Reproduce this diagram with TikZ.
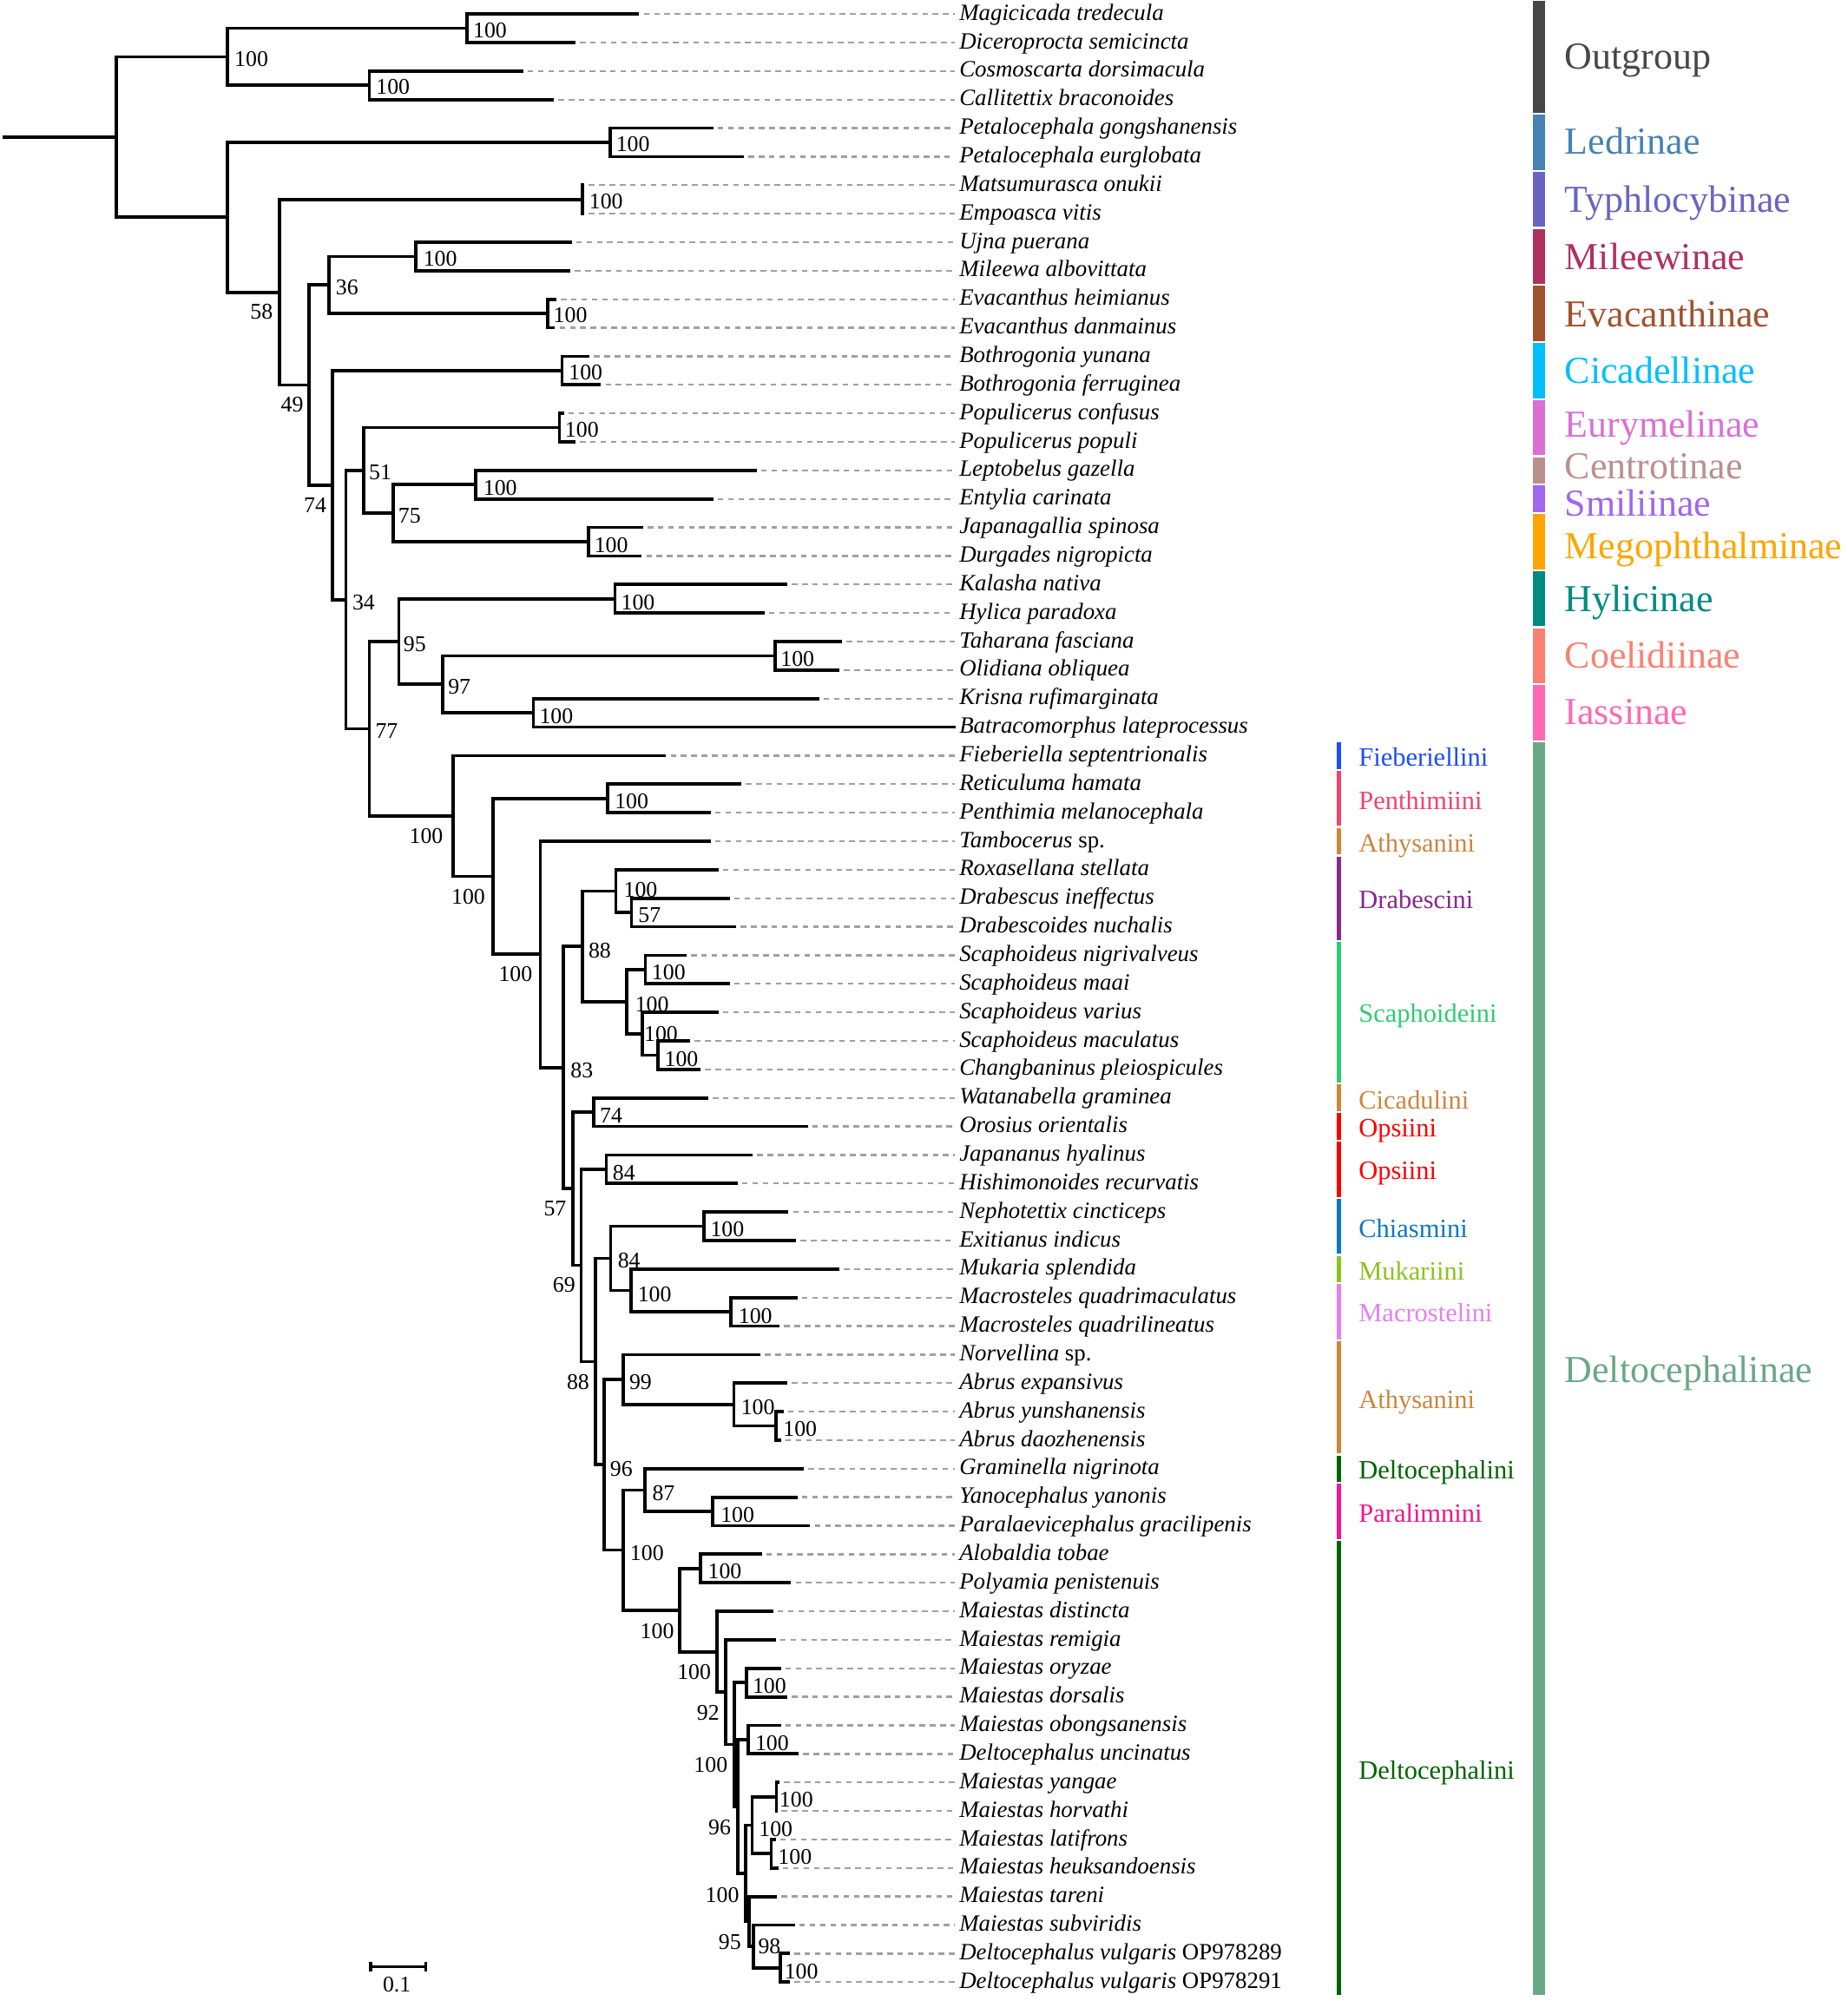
\documentclass[tikz,border=0pt]{standalone}
\usepackage{fontspec}
\setmainfont{Liberation Serif}
\usetikzlibrary{arrows.meta}

% subfamilies
\definecolor{cOut}{HTML}{474747}
\definecolor{cLed}{HTML}{4682B4}
\definecolor{cTyp}{HTML}{6A64C0}
\definecolor{cMil}{HTML}{B03060}
\definecolor{cEva}{HTML}{A0522D}
\definecolor{cCic}{HTML}{00BFFF}
\definecolor{cEur}{HTML}{DA70D6}
\definecolor{cCen}{HTML}{BC8F8F}
\definecolor{cSmi}{HTML}{A066EE}
\definecolor{cMeg}{HTML}{FFA500}
\definecolor{cHyl}{HTML}{008B80}
\definecolor{cCoe}{HTML}{FA8072}
\definecolor{cIas}{HTML}{FF69B4}
\definecolor{cDel}{HTML}{69A887}
% tribes
\definecolor{tFie}{HTML}{1E4BFF}
\definecolor{tPen}{HTML}{F4416F}
\definecolor{tAth}{HTML}{CD853F}
\definecolor{tDra}{HTML}{88288F}
\definecolor{tSca}{HTML}{2ECC71}
\definecolor{tOps}{HTML}{FF0000}
\definecolor{tChi}{HTML}{0E78C2}
\definecolor{tMuk}{HTML}{8CC21F}
\definecolor{tMac}{HTML}{E77FEF}
\definecolor{tDlt}{HTML}{006400}
\definecolor{tPar}{HTML}{F3168E}
\definecolor{guidegray}{HTML}{A0A0A0}

\newcommand{\ry}[1]{11+(#1-1)*22.35}

\begin{document}
\begin{tikzpicture}[x=0.2mm,y=-0.2mm,
	branch/.style={line width=1.45pt},
	guide/.style={guidegray,line width=0.9pt,dash pattern=on 2.5pt off 2.1pt,shorten <=2pt},
	taxon/.style={anchor=west,inner xsep=2pt,inner ysep=0pt,text height=7.5pt,text depth=2pt,font=\fontsize{10.4}{12}\selectfont\itshape},
	bs/.style={inner sep=0pt,font=\fontsize{10}{12}\selectfont},
	tribe/.style={anchor=base west,inner sep=0pt,font=\fontsize{11.8}{14}\selectfont},
	subfam/.style={anchor=base west,inner sep=0pt,font=\fontsize{17}{20}\selectfont}]

	\useasboundingbox (0,0) rectangle (1448,1568);

	% tips and taxon names
	\coordinate (t1) at (501,{\ry{1}});   \node[taxon] (L1) at (748,{\ry{1}}) {Magicicada tredecula};
	\coordinate (t2) at (451,{\ry{2}});   \node[taxon] (L2) at (748,{\ry{2}}) {Diceroprocta semicincta};
	\coordinate (t3) at (410,{\ry{3}});   \node[taxon] (L3) at (748,{\ry{3}}) {Cosmoscarta dorsimacula};
	\coordinate (t4) at (434,{\ry{4}});   \node[taxon] (L4) at (748,{\ry{4}}) {Callitettix braconoides};
	\coordinate (t5) at (559,{\ry{5}});   \node[taxon] (L5) at (748,{\ry{5}}) {Petalocephala gongshanensis};
	\coordinate (t6) at (583,{\ry{6}});   \node[taxon] (L6) at (748,{\ry{6}}) {Petalocephala eurglobata};
	\coordinate (t7) at (458,{\ry{7}});   \node[taxon] (L7) at (748,{\ry{7}}) {Matsumurasca onukii};
	\coordinate (t8) at (458,{\ry{8}});   \node[taxon] (L8) at (748,{\ry{8}}) {Empoasca vitis};
	\coordinate (t9) at (448,{\ry{9}});   \node[taxon] (L9) at (748,{\ry{9}}) {Ujna puerana};
	\coordinate (t10) at (447,{\ry{10}}); \node[taxon] (L10) at (748,{\ry{10}}) {Mileewa albovittata};
	\coordinate (t11) at (436,{\ry{11}}); \node[taxon] (L11) at (748,{\ry{11}}) {Evacanthus heimianus};
	\coordinate (t12) at (435,{\ry{12}}); \node[taxon] (L12) at (748,{\ry{12}}) {Evacanthus danmainus};
	\coordinate (t13) at (462,{\ry{13}}); \node[taxon] (L13) at (748,{\ry{13}}) {Bothrogonia yunana};
	\coordinate (t14) at (471,{\ry{14}}); \node[taxon] (L14) at (748,{\ry{14}}) {Bothrogonia ferruginea};
	\coordinate (t15) at (442,{\ry{15}}); \node[taxon] (L15) at (748,{\ry{15}}) {Populicerus confusus};
	\coordinate (t16) at (451,{\ry{16}}); \node[taxon] (L16) at (748,{\ry{16}}) {Populicerus populi};
	\coordinate (t17) at (593,{\ry{17}}); \node[taxon] (L17) at (748,{\ry{17}}) {Leptobelus gazella};
	\coordinate (t18) at (559,{\ry{18}}); \node[taxon] (L18) at (748,{\ry{18}}) {Entylia carinata};
	\coordinate (t19) at (504,{\ry{19}}); \node[taxon] (L19) at (748,{\ry{19}}) {Japanagallia spinosa};
	\coordinate (t20) at (503,{\ry{20}}); \node[taxon] (L20) at (748,{\ry{20}}) {Durgades nigropicta};
	\coordinate (t21) at (617,{\ry{21}}); \node[taxon] (L21) at (748,{\ry{21}}) {Kalasha nativa};
	\coordinate (t22) at (599,{\ry{22}}); \node[taxon] (L22) at (748,{\ry{22}}) {Hylica paradoxa};
	\coordinate (t23) at (660,{\ry{23}}); \node[taxon] (L23) at (748,{\ry{23}}) {Taharana fasciana};
	\coordinate (t24) at (658,{\ry{24}}); \node[taxon] (L24) at (748,{\ry{24}}) {Olidiana obliquea};
	\coordinate (t25) at (642,{\ry{25}}); \node[taxon] (L25) at (748,{\ry{25}}) {Krisna rufimarginata};
	\coordinate (t26) at (749,{\ry{26}}); \node[taxon] (L26) at (748,{\ry{26}}) {Batracomorphus lateprocessus};
	\coordinate (t27) at (522,{\ry{27}}); \node[taxon] (L27) at (748,{\ry{27}}) {Fieberiella septentrionalis};
	\coordinate (t28) at (581,{\ry{28}}); \node[taxon] (L28) at (748,{\ry{28}}) {Reticuluma hamata};
	\coordinate (t29) at (557,{\ry{29}}); \node[taxon] (L29) at (748,{\ry{29}}) {Penthimia melanocephala};
	\coordinate (t30) at (557,{\ry{30}}); \node[taxon] (L30) at (748,{\ry{30}}) {Tambocerus {\upshape sp.}};
	\coordinate (t31) at (563,{\ry{31}}); \node[taxon] (L31) at (748,{\ry{31}}) {Roxasellana stellata};
	\coordinate (t32) at (572,{\ry{32}}); \node[taxon] (L32) at (748,{\ry{32}}) {Drabescus ineffectus};
	\coordinate (t33) at (577,{\ry{33}}); \node[taxon] (L33) at (748,{\ry{33}}) {Drabescoides nuchalis};
	\coordinate (t34) at (538,{\ry{34}}); \node[taxon] (L34) at (748,{\ry{34}}) {Scaphoideus nigrivalveus};
	\coordinate (t35) at (572,{\ry{35}}); \node[taxon] (L35) at (748,{\ry{35}}) {Scaphoideus maai};
	\coordinate (t36) at (563,{\ry{36}}); \node[taxon] (L36) at (748,{\ry{36}}) {Scaphoideus varius};
	\coordinate (t37) at (541,{\ry{37}}); \node[taxon] (L37) at (748,{\ry{37}}) {Scaphoideus maculatus};
	\coordinate (t38) at (549,{\ry{38}}); \node[taxon] (L38) at (748,{\ry{38}}) {Changbaninus pleiospicules};
	\coordinate (t39) at (555,{\ry{39}}); \node[taxon] (L39) at (748,{\ry{39}}) {Watanabella graminea};
	\coordinate (t40) at (633,{\ry{40}}); \node[taxon] (L40) at (748,{\ry{40}}) {Orosius orientalis};
	\coordinate (t41) at (590,{\ry{41}}); \node[taxon] (L41) at (748,{\ry{41}}) {Japananus hyalinus};
	\coordinate (t42) at (578,{\ry{42}}); \node[taxon] (L42) at (748,{\ry{42}}) {Hishimonoides recurvatis};
	\coordinate (t43) at (618,{\ry{43}}); \node[taxon] (L43) at (748,{\ry{43}}) {Nephotettix cincticeps};
	\coordinate (t44) at (624,{\ry{44}}); \node[taxon] (L44) at (748,{\ry{44}}) {Exitianus indicus};
	\coordinate (t45) at (658,{\ry{45}}); \node[taxon] (L45) at (748,{\ry{45}}) {Mukaria splendida};
	\coordinate (t46) at (625,{\ry{46}}); \node[taxon] (L46) at (748,{\ry{46}}) {Macrosteles quadrimaculatus};
	\coordinate (t47) at (611,{\ry{47}}); \node[taxon] (L47) at (748,{\ry{47}}) {Macrosteles quadrilineatus};
	\coordinate (t48) at (596,{\ry{48}}); \node[taxon] (L48) at (748,{\ry{48}}) {Norvellina {\upshape sp.}};
	\coordinate (t49) at (617,{\ry{49}}); \node[taxon] (L49) at (748,{\ry{49}}) {Abrus expansivus};
	\coordinate (t50) at (614,{\ry{50}}); \node[taxon] (L50) at (748,{\ry{50}}) {Abrus yunshanensis};
	\coordinate (t51) at (612,{\ry{51}}); \node[taxon] (L51) at (748,{\ry{51}}) {Abrus daozhenensis};
	\coordinate (t52) at (630,{\ry{52}}); \node[taxon] (L52) at (748,{\ry{52}}) {Graminella nigrinota};
	\coordinate (t53) at (625,{\ry{53}}); \node[taxon] (L53) at (748,{\ry{53}}) {Yanocephalus yanonis};
	\coordinate (t54) at (635,{\ry{54}}); \node[taxon] (L54) at (748,{\ry{54}}) {Paralaevicephalus gracilipenis};
	\coordinate (t55) at (597,{\ry{55}}); \node[taxon] (L55) at (748,{\ry{55}}) {Alobaldia tobae};
	\coordinate (t56) at (620,{\ry{56}}); \node[taxon] (L56) at (748,{\ry{56}}) {Polyamia penistenuis};
	\coordinate (t57) at (606,{\ry{57}}); \node[taxon] (L57) at (748,{\ry{57}}) {Maiestas distincta};
	\coordinate (t58) at (608,{\ry{58}}); \node[taxon] (L58) at (748,{\ry{58}}) {Maiestas remigia};
	\coordinate (t59) at (612,{\ry{59}}); \node[taxon] (L59) at (748,{\ry{59}}) {Maiestas oryzae};
	\coordinate (t60) at (617,{\ry{60}}); \node[taxon] (L60) at (748,{\ry{60}}) {Maiestas dorsalis};
	\coordinate (t61) at (612,{\ry{61}}); \node[taxon] (L61) at (748,{\ry{61}}) {Maiestas obongsanensis};
	\coordinate (t62) at (626,{\ry{62}}); \node[taxon] (L62) at (748,{\ry{62}}) {Deltocephalus uncinatus};
	\coordinate (t63) at (611,{\ry{63}}); \node[taxon] (L63) at (748,{\ry{63}}) {Maiestas yangae};
	\coordinate (t64) at (609,{\ry{64}}); \node[taxon] (L64) at (748,{\ry{64}}) {Maiestas horvathi};
	\coordinate (t65) at (608,{\ry{65}}); \node[taxon] (L65) at (748,{\ry{65}}) {Maiestas latifrons};
	\coordinate (t66) at (610,{\ry{66}}); \node[taxon] (L66) at (748,{\ry{66}}) {Maiestas heuksandoensis};
	\coordinate (t67) at (609,{\ry{67}}); \node[taxon] (L67) at (748,{\ry{67}}) {Maiestas tareni};
	\coordinate (t68) at (623,{\ry{68}}); \node[taxon] (L68) at (748,{\ry{68}}) {Maiestas subviridis};
	\coordinate (t69) at (619,{\ry{69}}); \node[taxon] (L69) at (748,{\ry{69}}) {Deltocephalus vulgaris {\upshape OP978289}};
	\coordinate (t70) at (619,{\ry{70}}); \node[taxon] (L70) at (748,{\ry{70}}) {Deltocephalus vulgaris {\upshape OP978291}};

	\draw[guide] (t1) -- (L1);   \draw[guide] (t2) -- (L2);   \draw[guide] (t3) -- (L3);   \draw[guide] (t4) -- (L4);
	\draw[guide] (t5) -- (L5);   \draw[guide] (t6) -- (L6);   \draw[guide] (t7) -- (L7);   \draw[guide] (t8) -- (L8);
	\draw[guide] (t9) -- (L9);   \draw[guide] (t10) -- (L10); \draw[guide] (t11) -- (L11); \draw[guide] (t12) -- (L12);
	\draw[guide] (t13) -- (L13); \draw[guide] (t14) -- (L14); \draw[guide] (t15) -- (L15); \draw[guide] (t16) -- (L16);
	\draw[guide] (t17) -- (L17); \draw[guide] (t18) -- (L18); \draw[guide] (t19) -- (L19); \draw[guide] (t20) -- (L20);
	\draw[guide] (t21) -- (L21); \draw[guide] (t22) -- (L22); \draw[guide] (t23) -- (L23); \draw[guide] (t24) -- (L24);
	\draw[guide] (t25) -- (L25); \draw[guide] (t27) -- (L27); \draw[guide] (t28) -- (L28); \draw[guide] (t29) -- (L29);
	\draw[guide] (t30) -- (L30); \draw[guide] (t31) -- (L31); \draw[guide] (t32) -- (L32); \draw[guide] (t33) -- (L33);
	\draw[guide] (t34) -- (L34); \draw[guide] (t35) -- (L35); \draw[guide] (t36) -- (L36); \draw[guide] (t37) -- (L37);
	\draw[guide] (t38) -- (L38); \draw[guide] (t39) -- (L39); \draw[guide] (t40) -- (L40); \draw[guide] (t41) -- (L41);
	\draw[guide] (t42) -- (L42); \draw[guide] (t43) -- (L43); \draw[guide] (t44) -- (L44); \draw[guide] (t45) -- (L45);
	\draw[guide] (t46) -- (L46); \draw[guide] (t47) -- (L47); \draw[guide] (t48) -- (L48); \draw[guide] (t49) -- (L49);
	\draw[guide] (t50) -- (L50); \draw[guide] (t51) -- (L51); \draw[guide] (t52) -- (L52); \draw[guide] (t53) -- (L53);
	\draw[guide] (t54) -- (L54); \draw[guide] (t55) -- (L55); \draw[guide] (t56) -- (L56); \draw[guide] (t57) -- (L57);
	\draw[guide] (t58) -- (L58); \draw[guide] (t59) -- (L59); \draw[guide] (t60) -- (L60); \draw[guide] (t61) -- (L61);
	\draw[guide] (t62) -- (L62); \draw[guide] (t63) -- (L63); \draw[guide] (t64) -- (L64); \draw[guide] (t65) -- (L65);
	\draw[guide] (t66) -- (L66); \draw[guide] (t67) -- (L67); \draw[guide] (t68) -- (L68); \draw[guide] (t69) -- (L69);
	\draw[guide] (t70) -- (L70);

	% inner nodes (row = mean of the two children)
	\coordinate (nMD) at (366,{\ry{1.5}});
	\coordinate (nCC) at (289.5,{\ry{3.5}});
	\coordinate (nOut) at (178,{\ry{2.5}});
	\coordinate (nLed) at (478,{\ry{5.5}});
	\coordinate (nTyp) at (456.6,{\ry{7.5}});
	\coordinate (nMil) at (326,{\ry{9.5}});
	\coordinate (nEva) at (429,{\ry{11.5}});
	\coordinate (n36) at (258,{\ry{10.5}});
	\coordinate (nBot) at (440.5,{\ry{13.5}});
	\coordinate (nPop) at (438.4,{\ry{15.5}});
	\coordinate (nLep) at (373,{\ry{17.5}});
	\coordinate (nJap) at (461,{\ry{19.5}});
	\coordinate (n75) at (308,{\ry{18.5}});
	\coordinate (n51) at (285,{\ry{17}});
	\coordinate (nKal) at (482,{\ry{21.5}});
	\coordinate (nTah) at (607.6,{\ry{23.5}});
	\coordinate (nKri) at (418,{\ry{25.5}});
	\coordinate (n97) at (347,{\ry{24.5}});
	\coordinate (n95) at (312.5,{\ry{23}});
	\coordinate (nPen) at (476,{\ry{28.5}});
	\coordinate (nDrb) at (494.8,{\ry{32.5}});
	\coordinate (nDra) at (482.7,{\ry{31.75}});
	\coordinate (nSc1) at (505.8,{\ry{34.5}});
	\coordinate (nSc4) at (515.5,{\ry{37.5}});
	\coordinate (nSc3) at (503.4,{\ry{36.75}});
	\coordinate (nSca) at (491.2,{\ry{35.625}});
	\coordinate (n88a) at (456.3,{\ry{33.6875}});
	\coordinate (n74b) at (465.4,{\ry{39.5}});
	\coordinate (n84a) at (475.2,{\ry{41.5}});
	\coordinate (nChi) at (551.6,{\ry{43.5}});
	\coordinate (nMac) at (572.8,{\ry{46.5}});
	\coordinate (nMuk) at (494.3,{\ry{45.75}});
	\coordinate (n84b) at (478.5,{\ry{44.625}});
	\coordinate (nAb2) at (608.1,{\ry{50.5}});
	\coordinate (nAbr) at (575.2,{\ry{49.75}});
	\coordinate (n99) at (488.3,{\ry{48.875}});
	\coordinate (nYan) at (558.4,{\ry{53.5}});
	\coordinate (n87) at (505.5,{\ry{52.75}});
	\coordinate (nAlo) at (549.2,{\ry{55.5}});
	\coordinate (nOD) at (584.9,{\ry{59.5}});
	\coordinate (nOU) at (586.5,{\ry{61.5}});
	\coordinate (nF) at (608.5,{\ry{63.5}});
	\coordinate (nG) at (604.4,{\ry{65.5}});
	\coordinate (nE) at (589.5,{\ry{64.5}});
	\coordinate (nJ) at (611.3,{\ry{69.5}});
	\coordinate (nI) at (590.6,{\ry{68.75}});
	\coordinate (nH) at (587.2,{\ry{67.875}});
	\coordinate (nD) at (584.2,{\ry{66.1875}});
	\coordinate (nB) at (578,{\ry{63.8438}});
	\coordinate (nA) at (575.7,{\ry{61.6719}});
	\coordinate (n92) at (568.75,{\ry{59.8359}});
	\coordinate (nM1) at (561.9,{\ry{58.418}});
	\coordinate (nDel) at (532.6,{\ry{56.959}});
	\coordinate (nLow) at (488.3,{\ry{54.8545}});
	\coordinate (n96) at (473.3,{\ry{51.8648}});
	\coordinate (n88b) at (466.6,{\ry{48.2449}});
	\coordinate (n69) at (455.4,{\ry{44.8724}});
	\coordinate (n57b) at (449,{\ry{42.1862}});
	\coordinate (n83) at (441.7,{\ry{37.9369}});
	\coordinate (n100c) at (423.5,{\ry{33.9684}});
	\coordinate (n100b) at (386.4,{\ry{31.2342}});
	\coordinate (n100a) at (355,{\ry{29.1171}});
	\coordinate (n77) at (289.5,{\ry{26.0586}});
	\coordinate (n34) at (271,{\ry{21.5293}});
	\coordinate (n74) at (260.4,{\ry{17.5146}});
	\coordinate (n49) at (242,{\ry{14.0073}});
	\coordinate (n58) at (219,{\ry{10.7537}});
	\coordinate (nIn) at (178,{\ry{8.1268}});
	\coordinate (nRoot) at (91,{\ry{5.3134}});
	\coordinate (nBase) at (2,{\ry{5.3134}});

	% branches
	\draw[branch] (t1) -| (nMD) |- (t2);
	\draw[branch] (t3) -| (nCC) |- (t4);
	\draw[branch] (nMD) -| (nOut) |- (nCC);
	\draw[branch] (t5) -| (nLed) |- (t6);
	\draw[branch] (t7) -| (nTyp) |- (t8);
	\draw[branch] (t9) -| (nMil) |- (t10);
	\draw[branch] (t11) -| (nEva) |- (t12);
	\draw[branch] (nMil) -| (n36) |- (nEva);
	\draw[branch] (t13) -| (nBot) |- (t14);
	\draw[branch] (t15) -| (nPop) |- (t16);
	\draw[branch] (t17) -| (nLep) |- (t18);
	\draw[branch] (t19) -| (nJap) |- (t20);
	\draw[branch] (nLep) -| (n75) |- (nJap);
	\draw[branch] (nPop) -| (n51) |- (n75);
	\draw[branch] (t21) -| (nKal) |- (t22);
	\draw[branch] (t23) -| (nTah) |- (t24);
	\draw[branch] (t25) -| (nKri) |- (t26);
	\draw[branch] (nTah) -| (n97) |- (nKri);
	\draw[branch] (nKal) -| (n95) |- (n97);
	\draw[branch] (t28) -| (nPen) |- (t29);
	\draw[branch] (t32) -| (nDrb) |- (t33);
	\draw[branch] (t31) -| (nDra) |- (nDrb);
	\draw[branch] (t34) -| (nSc1) |- (t35);
	\draw[branch] (t37) -| (nSc4) |- (t38);
	\draw[branch] (t36) -| (nSc3) |- (nSc4);
	\draw[branch] (nSc1) -| (nSca) |- (nSc3);
	\draw[branch] (nDra) -| (n88a) |- (nSca);
	\draw[branch] (t39) -| (n74b) |- (t40);
	\draw[branch] (t41) -| (n84a) |- (t42);
	\draw[branch] (t43) -| (nChi) |- (t44);
	\draw[branch] (t46) -| (nMac) |- (t47);
	\draw[branch] (t45) -| (nMuk) |- (nMac);
	\draw[branch] (nChi) -| (n84b) |- (nMuk);
	\draw[branch] (t50) -| (nAb2) |- (t51);
	\draw[branch] (t49) -| (nAbr) |- (nAb2);
	\draw[branch] (t48) -| (n99) |- (nAbr);
	\draw[branch] (t53) -| (nYan) |- (t54);
	\draw[branch] (t52) -| (n87) |- (nYan);
	\draw[branch] (t55) -| (nAlo) |- (t56);
	\draw[branch] (t59) -| (nOD) |- (t60);
	\draw[branch] (t61) -| (nOU) |- (t62);
	\draw[branch] (t63) -| (nF) |- (t64);
	\draw[branch] (t65) -| (nG) |- (t66);
	\draw[branch] (nF) -| (nE) |- (nG);
	\draw[branch] (t69) -| (nJ) |- (t70);
	\draw[branch] (t68) -| (nI) |- (nJ);
	\draw[branch] (t67) -| (nH) |- (nI);
	\draw[branch] (nE) -| (nD) |- (nH);
	\draw[branch] (nOU) -| (nB) |- (nD);
	\draw[branch] (nOD) -| (nA) |- (nB);
	\draw[branch] (t58) -| (n92) |- (nA);
	\draw[branch] (t57) -| (nM1) |- (n92);
	\draw[branch] (nAlo) -| (nDel) |- (nM1);
	\draw[branch] (n87) -| (nLow) |- (nDel);
	\draw[branch] (n99) -| (n96) |- (nLow);
	\draw[branch] (n84b) -| (n88b) |- (n96);
	\draw[branch] (n84a) -| (n69) |- (n88b);
	\draw[branch] (n74b) -| (n57b) |- (n69);
	\draw[branch] (n88a) -| (n83) |- (n57b);
	\draw[branch] (t30) -| (n100c) |- (n83);
	\draw[branch] (nPen) -| (n100b) |- (n100c);
	\draw[branch] (t27) -| (n100a) |- (n100b);
	\draw[branch] (n95) -| (n77) |- (n100a);
	\draw[branch] (n51) -| (n34) |- (n77);
	\draw[branch] (nBot) -| (n74) |- (n34);
	\draw[branch] (n36) -| (n49) |- (n74);
	\draw[branch] (nTyp) -| (n58) |- (n49);
	\draw[branch] (nLed) -| (nIn) |- (n58);
	\draw[branch] (nOut) -| (nRoot) |- (nIn);
	\draw[branch] (nBase) -- (nRoot);

	% support values
	\node[bs] (bMD) at (384,24) {100};
	\node[bs] (bOut) at (197,46) {100};
	\node[bs] (bCC) at (308,68) {100};
	\node[bs] (bLed) at (496,113) {100};
	\node[bs] (bTyp) at (475,158) {100};
	\node[bs] (bMil) at (345,203) {100};
	\node[bs] (b36) at (272,225) {36};
	\node[bs] (b58) at (205,244) {58};
	\node[bs] (bEva) at (447,247) {100};
	\node[bs] (bBot) at (459,292) {100};
	\node[bs] (b49) at (229,317) {49};
	\node[bs] (bPop) at (456,337) {100};
	\node[bs] (b51) at (298,370) {51};
	\node[bs] (bLep) at (392,382) {100};
	\node[bs] (b74) at (247,396) {74};
	\node[bs] (b75) at (321,404) {75};
	\node[bs] (bJap) at (479,427) {100};
	\node[bs] (bKal) at (500,472) {100};
	\node[bs] (b34) at (285,472) {34};
	\node[bs] (b95) at (325,505) {95};
	\node[bs] (bTah) at (625,516) {100};
	\node[bs] (b97) at (360,538) {97};
	\node[bs] (bKri) at (436,561) {100};
	\node[bs] (b77) at (303,573) {77};
	\node[bs] (bPen) at (495,628) {100};
	\node[bs] (b100a) at (334,655) {100};
	\node[bs] (bDra) at (502,697) {100};
	\node[bs] (b100b) at (367,703) {100};
	\node[bs] (bDrb) at (509,717) {57};
	\node[bs] (b88a) at (470,745) {88};
	\node[bs] (bSc1) at (524,762) {100};
	\node[bs] (b100c) at (404,763) {100};
	\node[bs] (bSca) at (511,787) {100};
	\node[bs] (bSc3) at (518,810) {100};
	\node[bs] (bSc4) at (534,830) {100};
	\node[bs] (b83) at (456,839) {83};
	\node[bs] (b74b) at (479,874) {74};
	\node[bs] (b84a) at (489,919) {84};
	\node[bs] (b57b) at (435,947) {57};
	\node[bs] (bChi) at (570,963) {100};
	\node[bs] (b84b) at (493,988) {84};
	\node[bs] (b69) at (442,1007) {69};
	\node[bs] (bMuk) at (513,1014) {100};
	\node[bs] (bMac) at (592,1031) {100};
	\node[bs] (b99) at (502,1083) {99};
	\node[bs] (b88b) at (453,1083) {88};
	\node[bs] (bAbr) at (594,1103) {100};
	\node[bs] (bAb2) at (627,1120) {100};
	\node[bs] (b96) at (487,1151) {96};
	\node[bs] (b87) at (520,1170) {87};
	\node[bs] (bYan) at (578,1187) {100};
	\node[bs] (bLow) at (507,1217) {100};
	\node[bs] (bAlo) at (568,1231) {100};
	\node[bs] (bDel) at (515,1278) {100};
	\node[bs] (bM1) at (544,1310) {100};
	\node[bs] (bOD) at (603,1321) {100};
	\node[bs] (b92) at (555,1342) {92};
	\node[bs] (bOU) at (605,1366) {100};
	\node[bs] (bA) at (557,1383) {100};
	\node[bs] (bF) at (624,1410) {100};
	\node[bs] (bB) at (564,1432) {96};
	\node[bs] (bE) at (608,1433) {100};
	\node[bs] (bG) at (623,1455) {100};
	\node[bs] (bD) at (566,1485) {100};
	\node[bs] (bH) at (572,1522) {95};
	\node[bs] (bI) at (603,1525) {98};
	\node[bs] (bJ) at (628,1545) {100};

	% scale bar
	\coordinate (sbL) at (289,1541);
	\coordinate (sbR) at (335,1541);
	\draw[line width=1.4pt,{Bar[width=4pt,line width=1.5pt]}-{Bar[width=4pt,line width=1.5pt]}] (sbL) -- (sbR);
	\node[bs] (sbT) at (311,1555) {0.1};

	% tribe bars
	\fill[tFie] (1047.5,{\ry{27}-10.4}) rectangle (1051,{\ry{27}+10.4});
	\fill[tPen] (1047.5,{\ry{28}-10.4}) rectangle (1051,{\ry{29}+10.4});
	\fill[tAth] (1047.5,{\ry{30}-10.4}) rectangle (1051,{\ry{30}+10.4});
	\fill[tDra] (1047.5,{\ry{31}-10.4}) rectangle (1051,{\ry{33}+10.4});
	\fill[tSca] (1047.5,{\ry{34}-10.4}) rectangle (1051,{\ry{38}+10.4});
	\fill[tAth] (1047.5,{\ry{39}-10.4}) rectangle (1051,{\ry{39}+10.4});
	\fill[tOps] (1047.5,{\ry{40}-10.4}) rectangle (1051,{\ry{40}+10.4});
	\fill[tOps] (1047.5,{\ry{41}-10.4}) rectangle (1051,{\ry{42}+10.4});
	\fill[tChi] (1047.5,{\ry{43}-10.4}) rectangle (1051,{\ry{44}+10.4});
	\fill[tMuk] (1047.5,{\ry{45}-10.4}) rectangle (1051,{\ry{45}+10.4});
	\fill[tMac] (1047.5,{\ry{46}-10.4}) rectangle (1051,{\ry{47}+10.4});
	\fill[tAth] (1047.5,{\ry{48}-10.4}) rectangle (1051,{\ry{51}+10.4});
	\fill[tDlt] (1047.5,{\ry{52}-10.4}) rectangle (1051,{\ry{52}+10.4});
	\fill[tPar] (1047.5,{\ry{53}-10.4}) rectangle (1051,{\ry{54}+10.4});
	\fill[tDlt] (1047.5,{\ry{55}-10.4}) rectangle (1051,{\ry{70}+10.4});

	\node[tribe,tFie] (rFie) at (1064.5,600.5) {Fieberiellini};
	\node[tribe,tPen] (rPen) at (1064.5,634) {Penthimiini};
	\node[tribe,tAth] (rAth1) at (1064.5,668) {Athysanini};
	\node[tribe,tDra] (rDra) at (1064.5,712) {Drabescini};
	\node[tribe,tSca] (rSca) at (1064.5,801) {Scaphoideini};
	\node[tribe,tAth] (rCic) at (1064.5,869) {Cicadulini};
	\node[tribe,tOps] (rOps1) at (1064.5,891) {Opsiini};
	\node[tribe,tOps] (rOps2) at (1064.5,924) {Opsiini};
	\node[tribe,tChi] (rChi) at (1064.5,970) {Chiasmini};
	\node[tribe,tMuk] (rMuk) at (1064.5,1003) {Mukariini};
	\node[tribe,tMac] (rMac) at (1064.5,1036) {Macrostelini};
	\node[tribe,tAth] (rAth2) at (1064.5,1104) {Athysanini};
	\node[tribe,tDlt] (rDlt1) at (1064.5,1159) {Deltocephalini};
	\node[tribe,tPar] (rPar) at (1064.5,1193) {Paralimnini};
	\node[tribe,tDlt] (rDlt2) at (1064.5,1394) {Deltocephalini};

	% subfamily bars
	\fill[cOut] (1201,{\ry{1}-10.4}) rectangle (1211,{\ry{4}+10.4});
	\fill[cLed] (1201,{\ry{5}-10.4}) rectangle (1211,{\ry{6}+10.4});
	\fill[cTyp] (1201,{\ry{7}-10.4}) rectangle (1211,{\ry{8}+10.4});
	\fill[cMil] (1201,{\ry{9}-10.4}) rectangle (1211,{\ry{10}+10.4});
	\fill[cEva] (1201,{\ry{11}-10.4}) rectangle (1211,{\ry{12}+10.4});
	\fill[cCic] (1201,{\ry{13}-10.4}) rectangle (1211,{\ry{14}+10.4});
	\fill[cEur] (1201,{\ry{15}-10.4}) rectangle (1211,{\ry{16}+10.4});
	\fill[cCen] (1201,{\ry{17}-10.4}) rectangle (1211,{\ry{17}+10.4});
	\fill[cSmi] (1201,{\ry{18}-10.4}) rectangle (1211,{\ry{18}+10.4});
	\fill[cMeg] (1201,{\ry{19}-10.4}) rectangle (1211,{\ry{20}+10.4});
	\fill[cHyl] (1201,{\ry{21}-10.4}) rectangle (1211,{\ry{22}+10.4});
	\fill[cCoe] (1201,{\ry{23}-10.4}) rectangle (1211,{\ry{24}+10.4});
	\fill[cIas] (1201,{\ry{25}-10.4}) rectangle (1211,{\ry{26}+10.4});
	\fill[cDel] (1201,{\ry{27}-10.4}) rectangle (1211,{\ry{70}+10.4});

	\node[subfam,cOut] (sOut) at (1226,54) {Outgroup};
	\node[subfam,cLed] (sLed) at (1226,121) {Ledrinae};
	\node[subfam,cTyp] (sTyp) at (1226,166) {Typhlocybinae};
	\node[subfam,cMil] (sMil) at (1226,211) {Mileewinae};
	\node[subfam,cEva] (sEva) at (1226,256) {Evacanthinae};
	\node[subfam,cCic] (sCic) at (1226,300) {Cicadellinae};
	\node[subfam,cEur] (sEur) at (1226,342.5) {Eurymelinae};
	\node[subfam,cCen] (sCen) at (1226,375.5) {Centrotinae};
	\node[subfam,cSmi] (sSmi) at (1226,404.5) {Smiliinae};
	\node[subfam,cMeg] (sMeg) at (1226,437.5) {Megophthalminae};
	\node[subfam,cHyl] (sHyl) at (1226,479.5) {Hylicinae};
	\node[subfam,cCoe] (sCoe) at (1226,523.5) {Coelidiinae};
	\node[subfam,cIas] (sIas) at (1226,568) {Iassinae};
	\node[subfam,cDel] (sDel) at (1226,1083) {Deltocephalinae};

\end{tikzpicture}
\end{document}
